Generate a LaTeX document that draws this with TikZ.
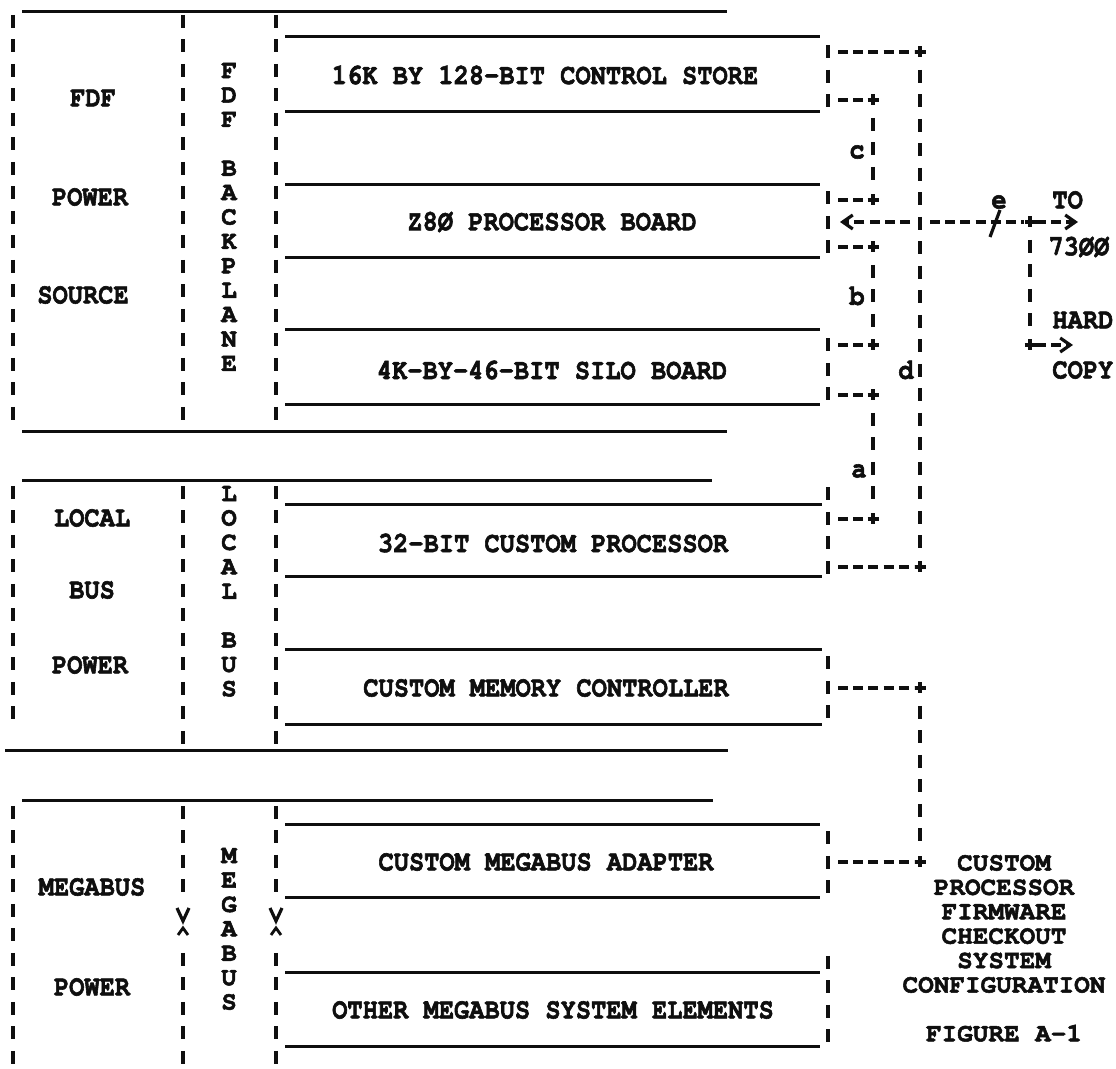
\documentclass[tikz,border=0pt]{standalone}
\usepackage{fontspec}
\setmonofont{texgyrecursor}[Extension=.otf, UprightFont=*-regular, BoldFont=*-bold, FakeStretch=0.875, BoldFeatures={FakeBold=2}]
\newfontfamily\typerwide{texgyrecursor}[Extension=.otf, UprightFont=*-bold, FakeBold=2]
\usetikzlibrary{arrows.meta}
\definecolor{ink}{RGB}{15,15,15}

\begin{document}
\begin{tikzpicture}[x=0.5pt, y=-0.5pt,
  tw/.style={font=\ttfamily\bfseries\fontsize{14.5}{12.2}\selectfont, text=ink, inner sep=0pt},
  twstack/.style={font=\typerwide\fontsize{13}{12.2}\selectfont, text=ink, inner sep=0pt, align=center, anchor=north},
  boardline/.style={draw=ink, line width=1.5pt},
  vdash/.style={draw=ink, line width=1.8pt, dash pattern=on 6.5pt off 5.75pt},
  hdash/.style={draw=ink, line width=1.6pt, dash pattern=on 5pt off 2.6pt},
  arrowed/.style={-{Straight Barb[length=5pt, width=7pt, line width=1.6pt]}},
  plus/.pic={\draw[ink, line width=1.6pt] (-5.5,0) -- (5.5,0) (0,-5.5) -- (0,5.5);}]

\useasboundingbox (0,0) rectangle (1116,1069);

% fdf backplane section
\draw[boardline] (22,12) -- (727,12);
\draw[boardline] (22,432) -- (727,432);
\draw[vdash] (13,15) -- (13,424) (183,15) -- (183,424) (276,15) -- (276,424);
\node[tw] (fdf) at (93,98) {FDF};
\node[tw] (pwr1) at (90,197) {POWER};
\node[tw] (src) at (83,295) {SOURCE};
\node[twstack] (bkp) at (229,62.6) {F\\D\\F\\[12.2pt]B\\A\\C\\K\\P\\L\\A\\N\\E};

% boards on the backplane
\draw[boardline] (285,37) -- (820,37) (285,112) -- (820,112);
\node[tw] (cstore) at (545,75) {16K BY 128-BIT CONTROL STORE};
\draw[boardline] (285,185) -- (820,185) (285,258) -- (820,258);
\node[tw] (z80) at (552,222) {Z8Ø PROCESSOR BOARD};
\draw[boardline] (285,330) -- (820,330) (285,405) -- (820,405);
\node[tw] (silo) at (552,370) {4K-BY-46-BIT SILO BOARD};

% local bus section
\draw[boardline] (22,481) -- (712,481);
\draw[boardline] (5,751) -- (728,751);
\draw[vdash] (13,486) -- (13,722) (183,486) -- (183,746) (276,486) -- (276,746);
\node[tw] (lcl) at (92,518) {LOCAL};
\node[tw] (bus) at (92,590) {BUS};
\node[tw] (pwr2) at (90,665) {POWER};
\node[twstack] (lbus) at (229,485.6) {L\\O\\C\\A\\L\\[12.2pt]B\\U\\S};
\draw[boardline] (285,505) -- (822,505) (285,577) -- (822,577);
\node[tw] (cproc) at (553,543) {32-BIT CUSTOM PROCESSOR};
\draw[boardline] (285,650) -- (822,650) (285,725) -- (822,725);
\node[tw] (memc) at (546,688) {CUSTOM MEMORY CONTROLLER};

% megabus section
\draw[boardline] (22,801) -- (713,801);
\draw[vdash] (13,806) -- (13,1069);
\draw[vdash] (183,806) -- (183,894) (183,953) -- (183,1069) (276,806) -- (276,894) (276,953) -- (276,1069);
\draw[ink, line width=1.6pt] (177,908) -- (183,921) -- (189,908) (270,908) -- (276,921) -- (282,908);
\draw[ink, line width=1.4pt] (178,935) -- (183,928) -- (188,935) (271,935) -- (276,928) -- (281,935);
\node[tw] (mgb) at (92,887) {MEGABUS};
\node[tw] (pwr3) at (92,987) {POWER};
\node[twstack] (mbus) at (229,847.6) {M\\E\\G\\A\\B\\U\\S};
\draw[boardline] (285,825) -- (820,825) (285,898) -- (820,898);
\node[tw] (mba) at (546,862) {CUSTOM MEGABUS ADAPTER};
\draw[boardline] (285,973) -- (820,973) (285,1047) -- (820,1047);
\node[tw] (other) at (553,1010) {OTHER MEGABUS SYSTEM ELEMENTS};

% board edge connectors
\draw[vdash] (828,45.5) -- (828,107);
\draw[vdash] (828,191.5) -- (828,254);
\draw[vdash] (828,338.5) -- (828,401);
\draw[vdash] (828,487.5) -- (828,574);
\draw[vdash] (828,656.5) -- (828,719);
\draw[vdash] (828,831.5) -- (828,894);
\draw[vdash] (828,956) -- (828,1043);

\coordinate (cs-d) at (828,52);
\coordinate (cs-c) at (828,100);
\coordinate (z80-c) at (828,200);
\coordinate (z80-e) at (828,222);
\coordinate (z80-b) at (828,247);
\coordinate (silo-b) at (828,345);
\coordinate (silo-a) at (828,395);
\coordinate (cp-a) at (828,519);
\coordinate (cp-d) at (828,567);
\coordinate (mem-m) at (828,688);
\coordinate (mba-m) at (828,862);

\coordinate (d1) at (920,52);
\coordinate (d2) at (920,567);
\coordinate (c1) at (873,100);
\coordinate (c2) at (873,200);
\coordinate (b1) at (873,247);
\coordinate (b2) at (873,345);
\coordinate (a1) at (873,395);
\coordinate (a2) at (873,519);
\coordinate (m1) at (920,688);
\coordinate (m2) at (920,862);
\coordinate (x) at (920,222);
\coordinate (split) at (1030,222);
\coordinate (hc) at (1030,345);
\coordinate (to-end) at (1078,222);
\coordinate (hc-end) at (1073,345);

% link c
\draw[hdash, shorten <=5pt, shorten >=3pt] (cs-c) -- (c1);
\draw[vdash, shorten <=9pt, shorten >=9pt] (c1) -- (c2);
\draw[hdash, shorten <=5pt, shorten >=3pt] (z80-c) -- (c2);
\node[tw] (lc) at (857,152) {c};

% link b
\draw[hdash, shorten <=5pt, shorten >=3pt] (z80-b) -- (b1);
\draw[vdash, shorten <=9pt, shorten >=9pt] (b1) -- (b2);
\draw[hdash, shorten <=5pt, shorten >=3pt] (silo-b) -- (b2);
\node[tw] (lb) at (857,296) {b};

% link a
\draw[hdash, shorten <=5pt, shorten >=3pt] (silo-a) -- (a1);
\draw[vdash, shorten <=9pt, shorten >=9pt] (a1) -- (a2);
\draw[hdash, shorten <=5pt, shorten >=3pt] (cp-a) -- (a2);
\node[tw] (la) at (859,471) {a};

% link d
\draw[hdash, shorten <=5pt, shorten >=3pt] (cs-d) -- (d1);
\draw[vdash, shorten <=9pt, shorten >=9pt] (d1) -- (d2);
\draw[hdash, shorten <=5pt, shorten >=3pt] (cp-d) -- (d2);
\node[tw] (ld) at (906,370) {d};

% link e to 7300 and hard copy
\draw[hdash, arrowed, shorten <=5pt, shorten >=6pt] (x) -- (z80-e);
\draw[hdash, shorten <=5pt, shorten >=3pt] (x) -- (split);
\draw[ink, line width=1.6pt] (990,237) -- (1000,210);
\draw[hdash, arrowed, shorten <=3pt] (split) -- (to-end);
\draw[vdash, shorten <=9pt, shorten >=9pt] (split) -- (hc);
\draw[hdash, arrowed, shorten <=3pt] (hc) -- (hc-end);
\node[tw] (le) at (999,202) {e};
\node[tw, anchor=west] (to) at (1052,200) {TO};
\node[tw, anchor=west] (dest) at (1048,247) {73ØØ};
\node[tw, anchor=west] (hard) at (1052,320) {HARD};
\node[tw, anchor=west] (copy) at (1052,370) {COPY};

% memory controller to megabus adapter
\draw[hdash, shorten <=5pt, shorten >=3pt] (mem-m) -- (m1);
\draw[vdash, shorten <=9pt, shorten >=9pt] (m1) -- (m2);
\draw[hdash, shorten <=5pt, shorten >=3pt] (mba-m) -- (m2);

% junctions
\pic at (d1) {plus};
\pic at (d2) {plus};
\pic at (c1) {plus};
\pic at (c2) {plus};
\pic at (b1) {plus};
\pic at (b2) {plus};
\pic at (a1) {plus};
\pic at (a2) {plus};
\pic at (m1) {plus};
\pic at (m2) {plus};
\pic at (split) {plus};
\pic at (hc) {plus};

% caption
\node[twstack] (caption) at (1004,854.6) {CUSTOM\\PROCESSOR\\FIRMWARE\\CHECKOUT\\SYSTEM\\CONFIGURATION\\[12.2pt]FIGURE A-1};

\end{tikzpicture}
\end{document}
